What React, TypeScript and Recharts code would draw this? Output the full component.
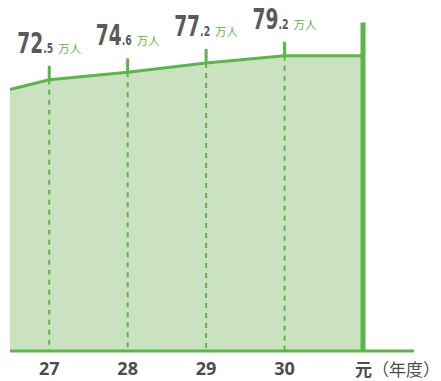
import { AreaChart, Area, XAxis, YAxis, ReferenceLine } from "recharts";

// fiscal years (26.5 = left edge of chart, 31 = 令和元年)
const YEARS = [26.5, 27, 28, 29, 30, 31];
// visitors, 万人
const VISITORS = [69.8, 72.5, 74.6, 77.2, 79.2, 79.2];
const TICKS = [27, 28, 29, 30, 31];
const TICK_LABELS = ["27", "28", "29", "30", "元"];
const LABELED_YEARS = [27, 28, 29, 30];

const GREEN = "#5cb547";
const FILL = "#cbe2c0";
const GRAY = "#5a5a5a";
const PLOT_BOTTOM = 351;
const NUM_FONT = "'DejaVu Sans Condensed', 'Liberation Sans Narrow', 'DejaVu Sans', sans-serif";

const data = YEARS.map((x, i) => ({ x, v: VISITORS[i] }));

function PointMark(props: any) {
  const { cx, cy, payload } = props;
  if (!LABELED_YEARS.includes(payload.x)) return <g key={`d-${payload.x}`} />;
  const [whole, frac] = payload.v.toFixed(1).split(".");
  return (
    <g key={`d-${payload.x}`}>
      <line x1={cx} y1={cy} x2={cx} y2={PLOT_BOTTOM} stroke={GREEN} strokeWidth={2} strokeDasharray="5 5" />
      <line x1={cx} y1={cy - 14} x2={cx} y2={cy} stroke={GREEN} strokeWidth={3} />
      <g transform={`translate(${cx + 4}, ${cy - 27}) scale(0.74, 1)`}>
        <text x={0} y={0} textAnchor="end" fontFamily={NUM_FONT} fontWeight="bold" fill={GRAY}>
          <tspan fontSize={28}>{whole}</tspan>
          <tspan fontSize={14}>{"." + frac}</tspan>
        </text>
      </g>
      <text x={cx + 9} y={cy - 27} textAnchor="start" fontFamily="'Noto Sans CJK JP', sans-serif" fontSize={11.5} fill={GREEN}>
        万人
      </text>
    </g>
  );
}

function YearTick(props: any) {
  const { x, y, payload } = props;
  const label = TICK_LABELS[TICKS.indexOf(payload.value)];
  if (payload.value === 31) {
    return (
      <text x={x - 8} y={y + 17} textAnchor="start" fontFamily="'Noto Sans CJK JP', sans-serif" fontSize={17} fill="#4d4d4d">
        <tspan fontWeight="bold">{label}</tspan>
        <tspan>（年度）</tspan>
      </text>
    );
  }
  return (
    <text x={x} y={y + 16} textAnchor="middle" fontFamily="'Noto Sans', sans-serif" fontWeight="bold" fontSize={18} fill="#4d4d4d">
      {label}
    </text>
  );
}

export default function App() {
  return (
    <div style={{ position: "absolute", left: 0, top: 0 }}>
      <AreaChart width={441} height={381} data={data} margin={{ top: 17, right: 27, left: 10, bottom: 0 }}>
        <XAxis
          dataKey="x"
          type="number"
          domain={[26.5, 31.65]}
          ticks={TICKS}
          tick={<YearTick />}
          tickLine={false}
          axisLine={{ stroke: GREEN, strokeWidth: 3 }}
          height={30}
          interval={0}
        />
        <YAxis hide domain={[-3, 90]} />
        <Area
          type="linear"
          dataKey="v"
          stroke={GREEN}
          strokeWidth={3}
          fill={FILL}
          fillOpacity={1}
          baseValue="dataMin"
          dot={PointMark}
          activeDot={false}
          isAnimationActive={false}
        />
        <ReferenceLine
          segment={[
            { x: 31, y: -3 },
            { x: 31, y: 88.5 },
          ]}
          stroke={GREEN}
          strokeWidth={5}
        />
      </AreaChart>
    </div>
  );
}
